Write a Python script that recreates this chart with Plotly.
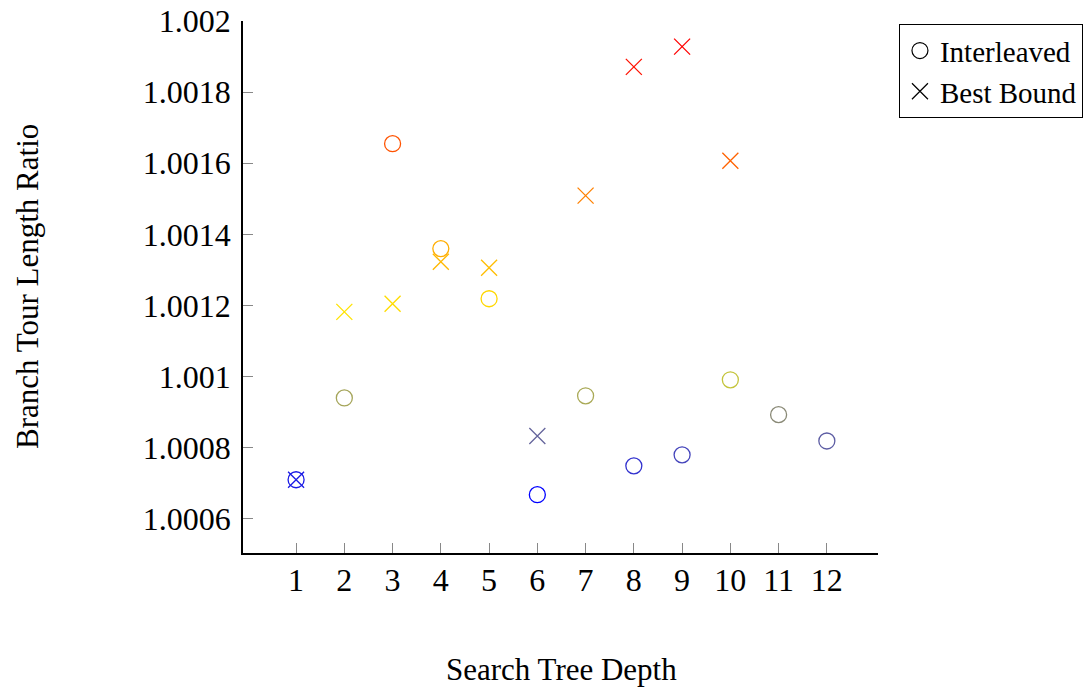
import plotly.graph_objects as go

depth_interleaved = [1, 2, 3, 4, 5, 6, 7, 8, 9, 10, 11, 12]
ratio_interleaved = [1.00071, 1.00094, 1.001655, 1.00136, 1.001219, 1.000668,
                     1.000946, 1.000749, 1.00078, 1.000991, 1.000893, 1.000819]
depth_best = [1, 2, 3, 4, 5, 6, 7, 8, 9, 10]
ratio_best = [1.00071, 1.001182, 1.001205, 1.001323, 1.001306, 1.000833,
              1.001509, 1.001871, 1.001928, 1.001607]
x_ticks = list(range(1, 13))
y_ticks = [1.0006, 1.0008, 1.001, 1.0012, 1.0014, 1.0016, 1.0018, 1.002]
y_tick_text = ["1.0006", "1.0008", "1.001", "1.0012", "1.0014", "1.0016", "1.0018", "1.002"]

hot = [[0, "rgb(0,0,255)"], [1/3, "rgb(255,255,0)"],
       [2/3, "rgb(255,128,0)"], [1, "rgb(255,0,0)"]]
all_vals = ratio_interleaved + ratio_best
cmin, cmax = min(all_vals), max(all_vals)

FONT = "Liberation Serif"
FS = 31
TICK_FS = 32

fig = go.Figure()
fig.add_trace(go.Scatter(
    x=depth_interleaved, y=ratio_interleaved, mode="markers", showlegend=False,
    marker=dict(symbol="circle-open", size=16, color=ratio_interleaved,
                colorscale=hot, cmin=cmin, cmax=cmax, line=dict(width=1.3))))
fig.add_trace(go.Scatter(
    x=depth_best, y=ratio_best, mode="markers", showlegend=False,
    marker=dict(symbol="x-thin-open", size=16, color=ratio_best,
                colorscale=hot, cmin=cmin, cmax=cmax, line=dict(width=1.3))))
fig.add_trace(go.Scatter(
    x=[None], y=[None], mode="markers", name="Interleaved",
    marker=dict(symbol="circle-open", size=16, color="black", line=dict(width=1.2))))
fig.add_trace(go.Scatter(
    x=[None], y=[None], mode="markers", name="Best Bound",
    marker=dict(symbol="x-thin-open", size=16, color="black", line=dict(width=1.2))))

fig.update_layout(
    template="none",
    width=1086, height=688,
    margin=dict(l=243, r=208, t=21, b=135, autoexpand=False),
    paper_bgcolor="white", plot_bgcolor="white",
    font=dict(family=FONT, size=FS, color="black"),
    showlegend=True,
    legend=dict(x=1.033, y=0.994, xanchor="left", yanchor="top",
                bordercolor="black", borderwidth=1, bgcolor="white",
                font=dict(family=FONT, size=29), itemwidth=30,
                tracegroupgap=0),
    xaxis=dict(range=[-0.1, 13.06], tickvals=x_ticks, showgrid=False, zeroline=False,
               automargin=False,
               showline=True, linecolor="black", linewidth=1.5,
               ticks="inside", ticklen=10, tickcolor="#888", tickwidth=1,
               ticklabelstandoff=-2,
               tickfont=dict(family=FONT, size=TICK_FS)),
    yaxis=dict(range=[1.000504, 1.002], tickvals=y_ticks, ticktext=y_tick_text,
               showgrid=False, zeroline=False, automargin=False,
               showline=True, linecolor="black", linewidth=1.5,
               ticks="inside", ticklen=10, tickcolor="#888", tickwidth=1,
               ticklabelstandoff=4,
               tickfont=dict(family=FONT, size=TICK_FS)),
    annotations=[
        dict(text="Search Tree Depth", xref="paper", yref="paper",
             x=(561 - 243) / 635, y=-(669 - 553) / 532, xanchor="center", yanchor="middle",
             showarrow=False, font=dict(family=FONT, size=FS)),
        dict(text="Branch Tour Length Ratio", xref="paper", yref="paper",
             x=-(243 - 27) / 635, y=(553 - 287) / 532, xanchor="center", yanchor="middle",
             textangle=-90, showarrow=False, font=dict(family=FONT, size=FS)),
    ],
)

fig.write_html("out.html", config={"displayModeBar": False},
               post_script="document.body.style.margin='0';")
